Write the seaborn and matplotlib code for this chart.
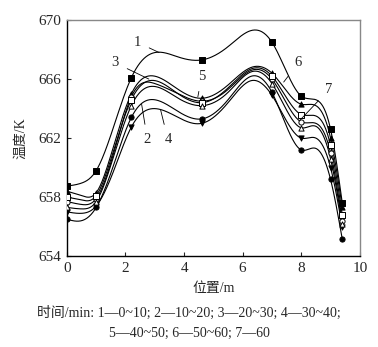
import numpy as np
import pandas as pd
import matplotlib
matplotlib.use("Agg")
import matplotlib.pyplot as plt
import seaborn as sns

# ---------------- data ----------------
x_line = [0, 0.5, 1, 1.6, 2.2, 3.0, 3.8, 4.6, 5.5, 6.3, 7.0, 8.0, 8.5, 9.0, 9.4]
marker_idx = [0, 2, 4, 7, 10, 11, 13, 14]   # points where symbols are drawn

curve1 = [658.75, 658.95, 659.8, 662.8, 666.1, 667.8, 667.5, 667.3, 668.2, 669.3, 668.5, 664.85, 664.6, 662.6, 657.6]
curve2 = [656.5, 656.4, 657.3, 660.2, 663.4, 664.6, 663.8, 663.3, 664.6, 666.2, 665.1, 661.2, 661.3, 659.2, 655.15]
curve3 = [658.4, 658.1, 658.3, 661.5, 665.0, 666.2, 665.3, 664.7, 665.6, 666.8, 666.4, 664.3, 664.2, 662.0, 657.3]
curve4 = [657.0, 656.9, 657.4, 659.8, 662.75, 664.0, 663.4, 663.0, 664.4, 665.9, 664.9, 662.0, 662.0, 660.0, 656.0]
curve5 = [657.7, 657.5, 657.9, 661.0, 664.8, 665.7, 665.0, 664.5, 665.3, 666.6, 666.0, 663.1, 663.0, 661.0, 656.4]
curve6 = [658.0, 657.8, 658.1, 661.2, 664.6, 665.9, 665.0, 664.4, 665.4, 666.7, 666.2, 663.6, 663.5, 661.5, 656.8]
curve7 = [657.3, 657.2, 657.7, 660.8, 664.2, 665.5, 664.7, 664.2, 665.1, 666.5, 665.7, 662.7, 662.8, 660.6, 656.2]

curve_names = ["1", "2", "3", "4", "5", "6", "7"]
x_ticks = [0, 2, 4, 6, 8, 10]
y_ticks = [654, 658, 662, 666, 670]
x_label = "位置/m"
y_label = "温度/K"
caption1 = "时间/min: 1—0~10; 2—10~20; 3—20~30; 4—30~40;"
caption2 = "5—40~50; 6—50~60; 7—60"

curves = [curve1, curve2, curve3, curve4, curve5, curve6, curve7]
styles = [("s", "black"), ("o", "black"), ("^", "black"), ("v", "black"),
          ("o", "white"), ("s", "white"), ("^", "white")]

# label positions (text xy, leader end xy)
labels = {
    "1": ((2.4, 668.5), (3.15, 667.8)),
    "3": ((1.65, 667.1), (2.8, 666.0)),
    "2": ((2.75, 661.9), (2.55, 664.3)),
    "4": ((3.45, 661.9), (3.2, 663.9)),
    "5": ((4.6, 666.2), (4.47, 664.8)),
    "6": ((7.9, 667.1), (7.4, 665.8)),
    "7": ((8.95, 665.3), (7.95, 663.2)),
}


def natural_spline(x, y, n=400):
    x = np.asarray(x, float)
    y = np.asarray(y, float)
    k = len(x)
    h = np.diff(x)
    A = np.zeros((k, k))
    b = np.zeros(k)
    A[0, 0] = 1
    A[-1, -1] = 1
    for i in range(1, k - 1):
        A[i, i - 1] = h[i - 1]
        A[i, i] = 2 * (h[i - 1] + h[i])
        A[i, i + 1] = h[i]
        b[i] = 6 * ((y[i + 1] - y[i]) / h[i] - (y[i] - y[i - 1]) / h[i - 1])
    M = np.linalg.solve(A, b)
    xs = np.linspace(x[0], x[-1], n)
    idx = np.clip(np.searchsorted(x, xs) - 1, 0, k - 2)
    x0, x1 = x[idx], x[idx + 1]
    hh = x1 - x0
    a = (x1 - xs) / hh
    bb = (xs - x0) / hh
    ys = a * y[idx] + bb * y[idx + 1] + ((a ** 3 - a) * M[idx] + (bb ** 3 - bb) * M[idx + 1]) * hh ** 2 / 6
    return xs, ys


sns.set_theme(style="ticks")
plt.rcParams["font.family"] = ["Liberation Serif", "Noto Sans CJK SC"]

fig = plt.figure(figsize=(3.78, 3.47), dpi=100)
ax = fig.add_axes([0.177, 0.262, 0.775, 0.680])

for name, ys, (mk, fc) in zip(curve_names, curves, styles):
    xs_s, ys_s = natural_spline(x_line, ys)
    sns.lineplot(x=xs_s, y=ys_s, ax=ax, color="black", lw=0.8, sort=False)
    mdf = pd.DataFrame({"x": [x_line[i] for i in marker_idx],
                        "y": [ys[i] for i in marker_idx]})
    sns.scatterplot(data=mdf, x="x", y="y", ax=ax, marker=mk, s=14,
                    facecolor=fc, edgecolor="black", linewidth=0.7, zorder=3)

for name, ((tx, ty), (lx, ly)) in labels.items():
    ax.annotate(name, xy=(lx, ly), xytext=(tx, ty), fontsize=10.5,
                ha="center", va="center",
                arrowprops=dict(arrowstyle="-", color="black", lw=0.6,
                                shrinkA=4, shrinkB=0))

ax.set_xlim(0, 10)
ax.set_ylim(654, 670)
ax.set_xticks(x_ticks)
ax.set_yticks(y_ticks)
ax.tick_params(direction="in", length=3, width=0.8, labelsize=11, pad=4)
ax.set_xlabel(x_label, fontsize=10, labelpad=5)
ax.set_ylabel(y_label, fontsize=10, labelpad=8)
for s in ["left", "bottom"]:
    ax.spines[s].set_color("black")
    ax.spines[s].set_linewidth(1.0)
for s in ["top", "right"]:
    ax.spines[s].set_color("#888888")
    ax.spines[s].set_linewidth(1.0)

fig.text(0.5, 0.098, caption1, ha="center", va="center", fontsize=10)
fig.text(0.5, 0.038, caption2, ha="center", va="center", fontsize=10)

fig.savefig("out.png", dpi=100)
